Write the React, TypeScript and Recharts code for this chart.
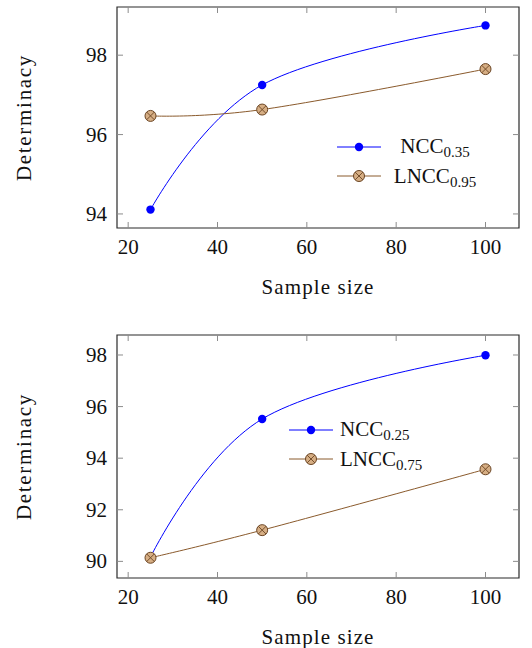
import React from 'react'
import { LineChart, Line, XAxis, YAxis, ReferenceArea } from 'recharts'

// sample sizes (x) shared by both panels
const sampleSizes = [25, 50, 100]

// upper panel
const ncc035 = [94.11, 97.25, 98.75]
const lncc095 = [96.47, 96.63, 97.65]

// lower panel
const ncc025 = [90.17, 95.52, 97.99]
const lncc075 = [90.14, 91.21, 93.57]

const xTicks = [20, 40, 60, 80, 100]
const yTicksTop = [94, 96, 98]
const yTicksBottom = [90, 92, 94, 96, 98]

const FONT = "'Liberation Serif', 'DejaVu Serif', serif"
const BLUE = '#0000ff'
const BROWN = '#8a5a2c'
const BROWN_DARK = '#6b4524'
const BROWN_FILL = '#d6ae84'
const TICK = '#8c8c8c'
const textStyle = { fontFamily: FONT, fontSize: 21 }

// pgfplots style: enlarge limits by 10% of the data range
const enlarge = (vals: number[]): [number, number] => {
  const lo = Math.min(...vals)
  const hi = Math.max(...vals)
  const pad = (hi - lo) * 0.1
  return [lo - pad, hi + pad]
}

// rough copy of pgf's "smooth" plot handler (tension 0.55)
const pgfSmooth = (context: any) => {
  let pts: [number, number][] = []
  const k = 0.55 / 3
  return {
    areaStart() {},
    areaEnd() {},
    lineStart() {
      pts = []
    },
    point(x: number, y: number) {
      pts.push([+x, +y])
    },
    lineEnd() {
      const n = pts.length
      if (!n) return
      context.moveTo(pts[0][0], pts[0][1])
      for (let i = 0; i < n - 1; i++) {
        const p = pts[i]
        const q = pts[i + 1]
        const c1 = i === 0 ? p : [p[0] + k * (q[0] - pts[i - 1][0]), p[1] + k * (q[1] - pts[i - 1][1])]
        const c2 =
          i + 1 === n - 1 ? q : [q[0] - k * (pts[i + 2][0] - p[0]), q[1] - k * (pts[i + 2][1] - p[1])]
        context.bezierCurveTo(c1[0], c1[1], c2[0], c2[1], q[0], q[1])
      }
    },
  }
}

const OtimesDot = (props: any) => {
  const { cx, cy, index } = props
  if (cx == null || cy == null) return <g key={index} />
  const r = 5.5
  const d = r * 0.7071
  return (
    <g key={`ot-${index}`}>
      <circle cx={cx} cy={cy} r={r} fill={BROWN_FILL} stroke={BROWN_DARK} strokeWidth={1} />
      <line x1={cx - d} y1={cy - d} x2={cx + d} y2={cy + d} stroke={BROWN_DARK} strokeWidth={0.9} />
      <line x1={cx - d} y1={cy + d} x2={cx + d} y2={cy - d} stroke={BROWN_DARK} strokeWidth={0.9} />
    </g>
  )
}

const LegendMark = ({ kind }: { kind: 'ncc' | 'lncc' }) => (
  <svg width={44} height={14} style={{ display: 'block' }}>
    <line x1={0} x2={44} y1={7} y2={7} stroke={kind === 'ncc' ? BLUE : BROWN} strokeWidth={1} />
    {kind === 'ncc' ? (
      <circle cx={22} cy={7} r={4.2} fill={BLUE} />
    ) : (
      <OtimesDot cx={22} cy={7} index={0} />
    )}
  </svg>
)

const Sub = ({ main, sub }: { main: string; sub: string }) => (
  <span>
    {main}
    <span style={{ fontSize: 15, position: 'relative', top: 4 }}>{sub}</span>
  </span>
)

interface PanelProps {
  height: number
  top: number
  xAxisH: number
  nccLabel: string
  lnccLabel: string
  ncc: number[]
  lncc: number[]
  yTicks: number[]
  legendPos: { left: number; top: number }
  centerText: boolean
}

function Panel({ height, top, xAxisH, nccLabel, lnccLabel, ncc, lncc, yTicks, legendPos, centerText }: PanelProps) {
  const plotTop = top
  const plotBottom = height - xAxisH
  const plotLeft = 117
  const plotRight = 519

  const data = sampleSizes.map((s, i) => ({ size: s, ncc: ncc[i], lncc: lncc[i] }))
  const xDomain = enlarge(sampleSizes)
  const yDomain = enlarge([...ncc, ...lncc])

  const XTick = (p: any) => {
    const { x, payload } = p
    return (
      <g>
        <line x1={x} x2={x} y1={plotBottom} y2={plotBottom - 6} stroke={TICK} />
        <line x1={x} x2={x} y1={plotTop} y2={plotTop + 6} stroke={TICK} />
        <text x={x} y={plotBottom + 25.5} textAnchor="middle" fill="#111" style={textStyle}>
          {payload.value}
        </text>
      </g>
    )
  }

  const YTick = (p: any) => {
    const { y, payload } = p
    return (
      <g>
        <line x1={plotLeft} x2={plotLeft + 6} y1={y} y2={y} stroke={TICK} />
        <line x1={plotRight} x2={plotRight - 6} y1={y} y2={y} stroke={TICK} />
        <text x={107} y={y + 7} textAnchor="end" fill="#111" style={textStyle}>
          {payload.value}
        </text>
      </g>
    )
  }

  const XTitle = (p: any) => {
    const vb = p.viewBox
    return (
      <text
        x={vb.x + vb.width / 2}
        y={plotBottom + 66}
        textAnchor="middle"
        fill="#111"
        style={{ ...textStyle, letterSpacing: 1.1 }}
      >
        Sample size
      </text>
    )
  }

  const YTitle = (p: any) => {
    const vb = p.viewBox
    const cy = vb.y + vb.height / 2
    return (
      <text
        x={31}
        y={cy}
        transform={`rotate(-90 31 ${cy})`}
        textAnchor="middle"
        fill="#111"
        style={{ ...textStyle, letterSpacing: 1.7 }}
      >
        Determinacy
      </text>
    )
  }

  const rows = [
    { kind: 'ncc' as const, label: nccLabel },
    { kind: 'lncc' as const, label: lnccLabel },
  ]

  return (
    <div style={{ position: 'relative', width: 532, height, fontFamily: FONT }}>
      <LineChart
        width={532}
        height={height}
        data={data}
        margin={{ top, right: 13, bottom: 0, left: 0 }}
        style={{ fontFamily: FONT }}
      >
        <XAxis
          dataKey="size"
          type="number"
          domain={xDomain}
          ticks={xTicks}
          allowDataOverflow
          height={xAxisH}
          axisLine={false}
          tickLine={false}
          tick={XTick}
          label={<XTitle />}
        />
        <YAxis
          type="number"
          domain={yDomain}
          ticks={yTicks}
          allowDataOverflow
          width={117}
          axisLine={false}
          tickLine={false}
          tick={YTick}
          label={<YTitle />}
        />
        <ReferenceArea
          x1={xDomain[0]}
          x2={xDomain[1]}
          y1={yDomain[0]}
          y2={yDomain[1]}
          fill="none"
          stroke="#2a2a2a"
          strokeWidth={1.2}
        />
        <Line
          type={pgfSmooth as any}
          dataKey="ncc"
          stroke={BLUE}
          strokeWidth={1}
          dot={{ r: 4.2, fill: BLUE, stroke: 'none' }}
          isAnimationActive={false}
        />
        <Line
          type={pgfSmooth as any}
          dataKey="lncc"
          stroke={BROWN}
          strokeWidth={1}
          dot={OtimesDot}
          isAnimationActive={false}
        />
      </LineChart>
      <div
        style={{
          position: 'absolute',
          left: legendPos.left,
          top: legendPos.top - 15,
          fontSize: 21,
          color: '#111',
        }}
      >
        {rows.map(row => {
          const [main, sub] = row.label.split('_')
          return (
            <div key={row.kind} style={{ display: 'flex', alignItems: 'center', height: 29.5 }}>
              <LegendMark kind={row.kind} />
              <div
                style={{
                  width: 100,
                  marginLeft: centerText ? 4 : 7,
                  textAlign: centerText ? 'center' : 'left',
                  whiteSpace: 'nowrap',
                }}
              >
                <Sub main={main} sub={sub} />
              </div>
            </div>
          )
        })}
      </div>
    </div>
  )
}

export default function App() {
  return (
    <div style={{ position: 'absolute', left: 0, top: 0, width: 532, height: 648, background: '#fff' }}>
      <div style={{ position: 'absolute', left: 0, top: 0 }}>
        <Panel
          height={320}
          top={7}
          xAxisH={92}
          nccLabel="NCC_0.35"
          lnccLabel="LNCC_0.95"
          ncc={ncc035}
          lncc={lncc095}
          yTicks={yTicksTop}
          legendPos={{ left: 337, top: 147 }}
          centerText
        />
      </div>
      <div style={{ position: 'absolute', left: 0, top: 320 }}>
        <Panel
          height={328}
          top={15}
          xAxisH={70}
          nccLabel="NCC_0.25"
          lnccLabel="LNCC_0.75"
          ncc={ncc025}
          lncc={lncc075}
          yTicks={yTicksBottom}
          legendPos={{ left: 289, top: 110 }}
          centerText={false}
        />
      </div>
    </div>
  )
}
